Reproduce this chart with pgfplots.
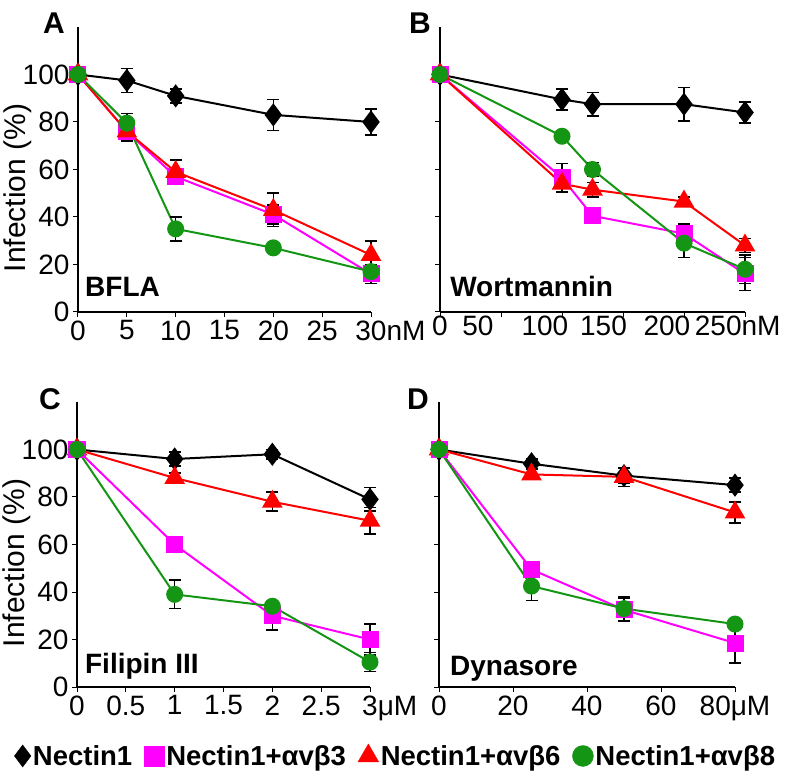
\documentclass[border=0pt]{standalone}
\usepackage{pgfplots}
\pgfplotsset{compat=1.18}
\usepackage{fontspec}
\setmainfont{Liberation Sans}
\definecolor{cMag}{RGB}{255,0,255}
\definecolor{cRed}{RGB}{255,0,0}
\definecolor{cGrn}{RGB}{20,150,20}

\pgfplotsset{
  panel/.style={
    scale only axis, height=285pt,
    ymin=0, ymax=120, ytick={0,20,...,100},
    axis x line=bottom, axis y line=left,
    axis line style={line width=2pt,-},
    tick style={black, line width=1pt},
    tick align=outside, major tick length=5pt,
    clip=false,
    tick label style={font=\fontsize{28}{30}\selectfont},
    /pgf/number format/assume math mode=true,
    every axis y label/.style={at={(axis description cs:-0.205,0.435)}, rotate=90,
      anchor=center, font=\fontsize{30}{32}\selectfont},
    error bars/error bar style={black, line width=1.6pt},
    error bars/error mark options={black, line width=1.6pt, mark size=6pt, rotate=90},
  },
  sN/.style={black, line width=2pt, mark=diamond*, mark size=10pt, mark options={solid},
    error bars/.cd, y dir=both, y explicit},
  sM/.style={cMag, line width=2pt, mark=square*, mark size=7.5pt, mark options={solid},
    error bars/.cd, y dir=both, y explicit},
  sR/.style={cRed, line width=2pt, mark=triangle*, mark size=10pt, mark options={solid},
    error bars/.cd, y dir=both, y explicit},
  sG/.style={cGrn, line width=2pt, mark=*, mark size=7.5pt, mark options={solid},
    error bars/.cd, y dir=both, y explicit},
}
\tikzset{lbl/.style={font=\bfseries\fontsize{28}{30}\selectfont, anchor=base west, inner sep=0pt}}

\begin{document}
\begin{tikzpicture}
\path[use as bounding box] (0pt,0pt) rectangle (786pt,776pt);

% A: BFLA
\begin{axis}[panel, at={(78pt,464pt)}, anchor=south west, width=293pt,
  xmin=0, xmax=30, xtick={0,5,...,30},
  xticklabels={0,5,10,15,20,25,30\rlap{nM}},
  ylabel={Infection (\%)}]
\addplot[sN] table[x=x,y=y,y error=e,row sep=\\] {x y e\\ 0 100 1\\ 5 97.5 5\\ 10 91 3\\ 20 83 6.5\\ 30 80 5.5\\};
\addplot[sM] table[x=x,y=y,y error=e,row sep=\\] {x y e\\ 0 100 0\\ 5 76 4\\ 10 57 3\\ 20 41 4\\ 30 16 4\\};
\addplot[sR] table[x=x,y=y,y error=e,row sep=\\] {x y e\\ 0 100 0\\ 5 76 4\\ 10 59 5\\ 20 43 7\\ 30 24 6\\};
\addplot[sG] table[x=x,y=y,y error=e,row sep=\\] {x y e\\ 0 100 0\\ 5 79.5 4\\ 10 35 5\\ 20 27 2\\ 30 17 5\\};
\node[lbl] at (rel axis cs:0.024,0.056) {BFLA};
\end{axis}

% B: Wortmannin (labels sit off their ticks, as in the original)
\begin{axis}[panel, at={(440pt,464pt)}, anchor=south west, width=305pt,
  xmin=0, xmax=250, xtick={0,50,...,250}, xticklabels={}, yticklabels={},
  extra x ticks={0,31,86,134,186,244},
  extra x tick labels={0,50,100,150,200,250nM},
  extra x tick style={major tick length=0pt}]
\addplot[sN] table[x=x,y=y,y error=e,row sep=\\] {x y e\\ 0 100 1\\ 100 89.5 4.5\\ 125 87.5 5\\ 200 87.5 7\\ 250 84 4.5\\};
\addplot[sM] table[x=x,y=y,y error=e,row sep=\\] {x y e\\ 0 100 0\\ 100 56.5 6\\ 125 40.5 2\\ 200 33 4\\ 250 16 7\\};
\addplot[sR] table[x=x,y=y,y error=e,row sep=\\] {x y e\\ 0 100 0\\ 100 54 2\\ 125 51.5 3\\ 200 46.5 2\\ 250 28 3\\};
\addplot[sG] table[x=x,y=y,y error=e,row sep=\\] {x y e\\ 0 100 0\\ 100 74 2\\ 125 60 3\\ 200 29 6\\ 250 18 6\\};
\node[lbl] at (rel axis cs:0.033,0.056) {Wortmannin};
\end{axis}

% C: Filipin III
\begin{axis}[panel, at={(77pt,89pt)}, anchor=south west, width=293pt,
  xmin=0, xmax=3, xtick={0,0.5,...,3},
  xticklabels={0,0.5,1,1.5,2,2.5,3\rlap{μM}},
  ylabel={Infection (\%)}]
\addplot[sN] table[x=x,y=y,y error=e,row sep=\\] {x y e\\ 0 100 2\\ 1 96 3\\ 2 98 2\\ 3 79 5\\};
\addplot[sR] table[x=x,y=y,y error=e,row sep=\\] {x y e\\ 0 100 0\\ 1 88 2\\ 2 78 4\\ 3 70 5.5\\};
\addplot[sM] table[x=x,y=y,y error=e,row sep=\\] {x y e\\ 0 100 0\\ 1 60 2\\ 2 30 6\\ 3 20 6.5\\};
\addplot[sG] table[x=x,y=y,y error=e,row sep=\\] {x y e\\ 0 100 0\\ 1 39 6\\ 2 34 2\\ 3 10.5 4\\};
\node[lbl] at (rel axis cs:0.027,0.049) {Filipin III};
\end{axis}

% D: Dynasore
\begin{axis}[panel, at={(439pt,89pt)}, anchor=south west, width=296pt,
  xmin=0, xmax=80, xtick={0,20,...,80},
  xticklabels={0,20,40,60,80μM}, yticklabels={},
  legend columns=4,
  legend style={at={(axis description cs:-0.146,-0.242)}, anchor=center,
    draw=none, fill=none, font=\bfseries\fontsize{27.5}{30}\selectfont,
    /tikz/every even column/.append style={column sep=10pt}}]
\addlegendimage{only marks, black, mark=diamond*, mark size=11pt}
\addlegendimage{only marks, cMag, mark=square*, mark size=10pt}
\addlegendimage{only marks, cRed, mark=triangle*, mark size=12pt}
\addlegendimage{only marks, cGrn, mark=*, mark size=10.5pt}
\addplot[sN] table[x=x,y=y,y error=e,row sep=\\] {x y e\\ 0 100 2\\ 25 94 2\\ 50 89 3\\ 80 85 3\\};
\addplot[sR] table[x=x,y=y,y error=e,row sep=\\] {x y e\\ 0 100 0\\ 25 89.5 2\\ 50 88.5 4\\ 80 73.5 4.5\\};
\addplot[sM] table[x=x,y=y,y error=e,row sep=\\] {x y e\\ 0 100 0\\ 25 49.5 2\\ 50 32.5 5\\ 80 18.5 8.5\\};
\addplot[sG] table[x=x,y=y,y error=e,row sep=\\] {x y e\\ 0 100 0\\ 25 42.5 6\\ 50 33 5\\ 80 26.5 2\\};
\node[lbl] at (rel axis cs:0.037,0.042) {Dynasore};
\legend{Nectin1, Nectin1+αvβ3, Nectin1+αvβ6, Nectin1+αvβ8}
\end{axis}

\node[font=\bfseries\fontsize{30}{32}\selectfont] at (54pt,753pt) {A};
\node[font=\bfseries\fontsize{30}{32}\selectfont] at (420pt,753pt) {B};
\node[font=\bfseries\fontsize{30}{32}\selectfont] at (50pt,377pt) {C};
\node[font=\bfseries\fontsize{30}{32}\selectfont] at (418pt,377pt) {D};
\end{tikzpicture}
\end{document}
